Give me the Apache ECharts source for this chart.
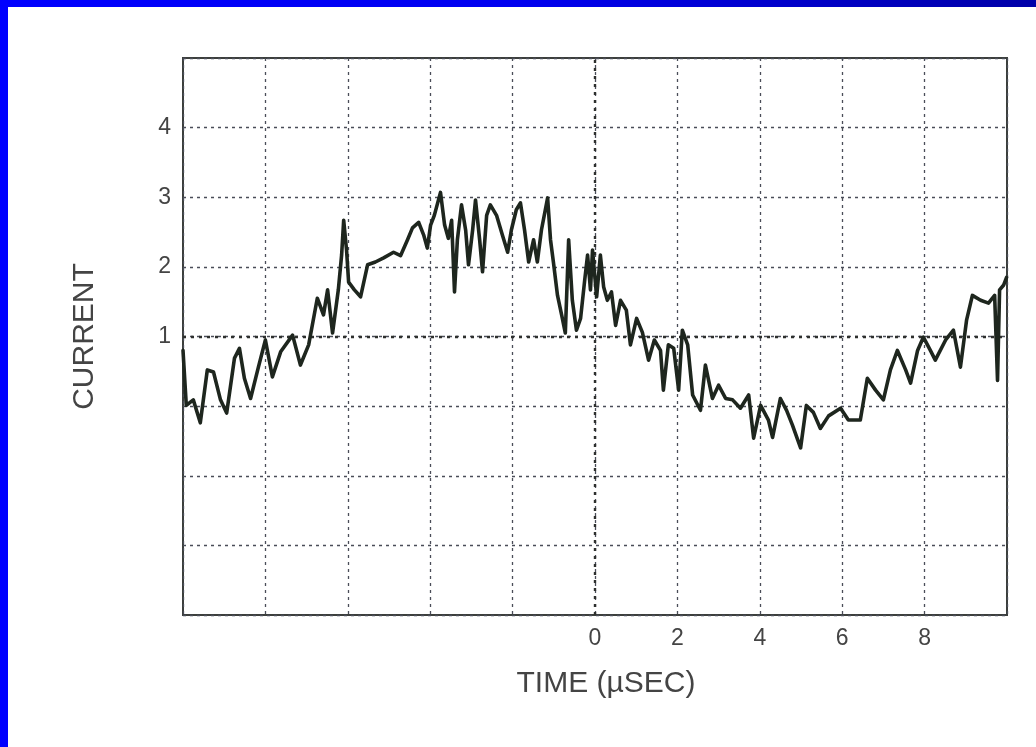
<!DOCTYPE html>
<html>
<head>
<meta charset="utf-8">
<script src="https://cdn.jsdelivr.net/npm/echarts@6/dist/echarts.min.js"></script>
<style>
html,body{margin:0;padding:0;background:#fff;}
#wrap{position:relative;width:1036px;height:747px;overflow:hidden;background:#fff;}
#chart{position:absolute;left:0;top:0;width:1036px;height:747px;}
#bandTop{position:absolute;left:0;top:0;width:1036px;height:7px;background:linear-gradient(to right,#0000ff 0%,#0000f0 50%,#0000a8 100%);}
#bandLeft{position:absolute;left:0;top:0;width:8px;height:747px;background:#0000ff;}
</style>
</head>
<body>
<div id="wrap">
<div id="chart"></div>
<div id="bandTop"></div>
<div id="bandLeft"></div>
</div>
<script>
// time in microseconds
var times = [-10.0,-9.92,-9.75,-9.58,-9.41,-9.26,-9.09,-8.94,-8.75,-8.63,-8.51,-8.36,-8.17,-8.00,-7.83,-7.63,-7.34,-7.15,-6.95,-6.74,-6.59,-6.49,-6.37,-6.23,-6.15,-6.10,-6.03,-5.98,-5.84,-5.69,-5.52,-5.33,-5.13,-4.89,-4.72,-4.55,-4.43,-4.28,-4.16,-4.07,-3.99,-3.90,-3.75,-3.65,-3.56,-3.48,-3.41,-3.34,-3.24,-3.14,-3.07,-2.97,-2.90,-2.80,-2.73,-2.63,-2.54,-2.39,-2.25,-2.12,-2.03,-1.91,-1.81,-1.71,-1.61,-1.49,-1.40,-1.30,-1.15,-1.08,-1.01,-0.91,-0.81,-0.72,-0.64,-0.55,-0.45,-0.35,-0.25,-0.18,-0.11,-0.06,0.04,0.13,0.21,0.30,0.40,0.50,0.62,0.76,0.86,1.01,1.15,1.30,1.44,1.59,1.66,1.78,1.91,2.03,2.12,2.25,2.37,2.56,2.68,2.85,3.00,3.17,3.34,3.53,3.73,3.85,4.02,4.21,4.31,4.50,4.65,4.79,4.99,5.13,5.30,5.47,5.67,5.96,6.15,6.44,6.61,6.81,7.00,7.17,7.34,7.54,7.66,7.83,7.97,8.14,8.26,8.51,8.70,8.87,9.02,9.16,9.36,9.55,9.70,9.77,9.82,9.92,9.99];
// current values
var currents = [0.80,0.01,0.09,-0.24,0.52,0.49,0.09,-0.10,0.69,0.83,0.40,0.11,0.56,0.95,0.42,0.78,1.02,0.59,0.88,1.55,1.31,1.67,1.05,1.67,2.17,2.67,2.24,1.78,1.67,1.57,2.03,2.07,2.13,2.21,2.16,2.39,2.56,2.64,2.46,2.27,2.60,2.74,3.07,2.60,2.41,2.67,1.64,2.39,2.89,2.53,2.03,2.53,2.96,2.39,1.93,2.74,2.89,2.74,2.46,2.21,2.53,2.82,2.92,2.53,2.07,2.39,2.07,2.53,2.99,2.39,2.07,1.59,1.31,1.05,2.39,1.52,1.09,1.26,1.81,2.17,1.67,2.24,1.57,2.17,1.71,1.52,1.64,1.16,1.52,1.38,0.88,1.26,1.06,0.66,0.95,0.80,0.23,0.88,0.83,0.23,1.09,0.88,0.16,-0.06,0.59,0.11,0.30,0.11,0.09,-0.03,0.16,-0.46,0.01,-0.20,-0.45,0.11,-0.06,-0.27,-0.60,0.01,-0.09,-0.32,-0.14,-0.03,-0.20,-0.20,0.40,0.23,0.09,0.52,0.80,0.52,0.33,0.80,0.99,0.80,0.66,0.95,1.09,0.56,1.24,1.59,1.52,1.48,1.59,0.37,1.67,1.74,1.85];
var xTickLabels = ['0','2','4','6','8'];
var yTickLabels = ['1','2','3','4'];

var seriesData = times.map(function(t, i){ return [t, currents[i]]; });

var FONT = 'Liberation Sans, Arial, Helvetica, sans-serif';
var gridLine = {show:true, lineStyle:{color:'#4a4d58', width:1.3, type:[3,4]}};
var chart = echarts.init(document.getElementById('chart'));
chart.setOption({
  backgroundColor:'#ffffff',
  animation:false,
  grid:{left:183, right:29, top:58, bottom:132, show:true, borderColor:'#3c3f3c', borderWidth:2, backgroundColor:'transparent'},
  xAxis:{
    type:'value', min:-10, max:10, interval:2,
    name:'TIME (\u00b5SEC)', nameLocation:'middle', nameGap:54,
    nameTextStyle:{color:'#444', fontSize:30, fontFamily:FONT, padding:[0,0,0,22]},
    axisLine:{show:false}, axisTick:{show:false},
    axisLabel:{color:'#444', fontSize:23, margin:12, fontFamily:FONT,
      formatter:function(v){ var s=String(v); return xTickLabels.indexOf(s)>=0 ? s : ''; }},
    splitLine:gridLine
  },
  yAxis:{
    type:'value', min:-3, max:5, interval:1,
    name:'CURRENT', nameLocation:'middle', nameGap:83, nameRotate:90,
    nameTextStyle:{color:'#444', fontSize:30, fontFamily:FONT},
    axisLine:{show:false}, axisTick:{show:false},
    axisLabel:{color:'#444', fontSize:23, margin:12, fontFamily:FONT,
      formatter:function(v){ var s=String(v); return yTickLabels.indexOf(s)>=0 ? s : ''; }},
    splitLine:gridLine
  },
  series:[{
    type:'line',
    data:seriesData,
    showSymbol:false,
    lineStyle:{color:'#1e261e', width:3.6, join:'round', cap:'round'},
    z:5,
    markLine:{
      silent:true, symbol:'none', label:{show:false},
      lineStyle:{color:'#2e302e', width:2.4, type:[3,5]},
      data:[{xAxis:0},{yAxis:1}],
      z:3
    }
  }]
});
</script>
</body>
</html>
